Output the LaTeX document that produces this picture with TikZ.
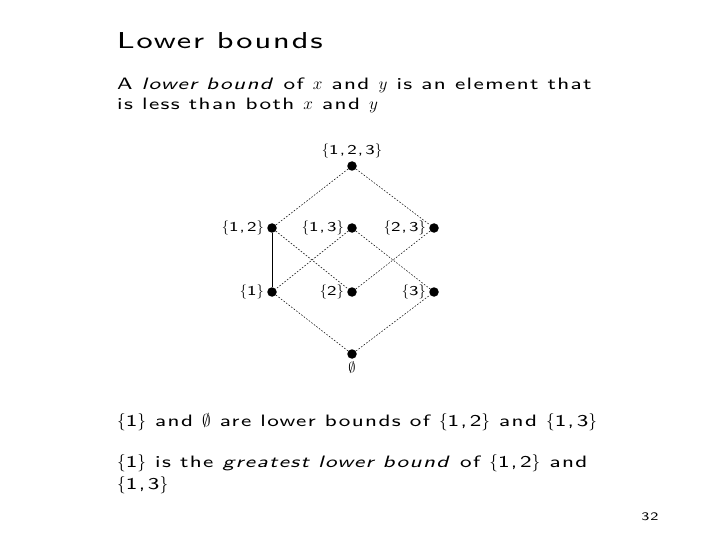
\documentclass[tikz,border=0pt]{standalone}
\usepackage{amsmath,amssymb}
\usepackage{fontspec}
\usepackage{tikz}
\usetikzlibrary{positioning}
\newfontfamily\slidesf[ItalicFont=lmsans8-oblique.otf,SlantedFont=lmsans8-oblique.otf,FakeStretch=1.32,LetterSpace=8.5]{lmsans8-regular.otf}
\newcommand{\setof}[1]{$\{$#1$\}$}
\newcommand{\slidefont}[2]{\slidesf\fontsize{#1}{#2}\selectfont}
\tikzset{
  elt/.style={circle,fill=black,inner sep=0pt,minimum size=9.5pt},
  lbl/.style={font=\slidefont{13.5}{16},inner sep=1pt,label distance=2pt},
  txt/.style={anchor=base west,inner sep=0pt,align=left,font=\slidefont{16.5}{20}},
  hid/.style={line width=.5pt,dash pattern=on 1.6pt off 1.6pt},
  edg/.style={line width=.9pt},
}
\begin{document}
\begin{tikzpicture}[x=1pt,y=-1pt]
  \useasboundingbox[fill=white] (0,0) rectangle (720,540);
  % heading and first paragraph
  \node[anchor=base west,inner sep=0pt,font=\slidefont{23}{28}] (title) at (117,49) {Lower bounds};
  \node[txt] (def) at (117,110) {A \textsl{lower bound} of $x$ and $y$ is an element that\\is less than both $x$ and $y$};
  % the lattice
  \node[elt,label={[lbl]above:\setof{1,\,2,\,3}}] (top) at (352,166) {};
  \node[elt,label={[lbl]left:\setof{1,\,2}}] (e12) at (272,228) {};
  \node[elt,label={[lbl]left:\setof{1,\,3}}] (e13) at (352,228) {};
  \node[elt,label={[lbl]left:\setof{2,\,3}}] (e23) at (434,228) {};
  \node[elt,label={[lbl]left:\setof{1}}] (s1) at (272,292) {};
  \node[elt,label={[lbl]left:\setof{2}}] (s2) at (352,292) {};
  \node[elt,label={[lbl]left:\setof{3}}] (s3) at (434,292) {};
  \node[elt,label={[lbl]below:$\emptyset$}] (bot) at (352,354) {};
  \draw[hid] (top)--(e12) (top)--(e23);
  \draw[hid] (e12)--(s2) (e13)--(s1) (e13)--(s3) (e23)--(s2);
  \draw[hid] (s1)--(bot)--(s3);
  \draw[edg] (e12)--(s1);
  % remarks
  \node[txt] (rem1) at (117,426) {\setof{1} and $\emptyset$ are lower bounds of \setof{1,\,2} and \setof{1,\,3}};
  \node[txt,font=\slidefont{16.5}{22}] (rem2) at (117,489) {\setof{1} is the \textsl{greatest lower bound} of \setof{1,\,2} and\\\setof{1,\,3}};
  \node[font=\slidefont{11.5}{14},inner sep=0pt] (page) at (650,517) {32};
\end{tikzpicture}
\end{document}
